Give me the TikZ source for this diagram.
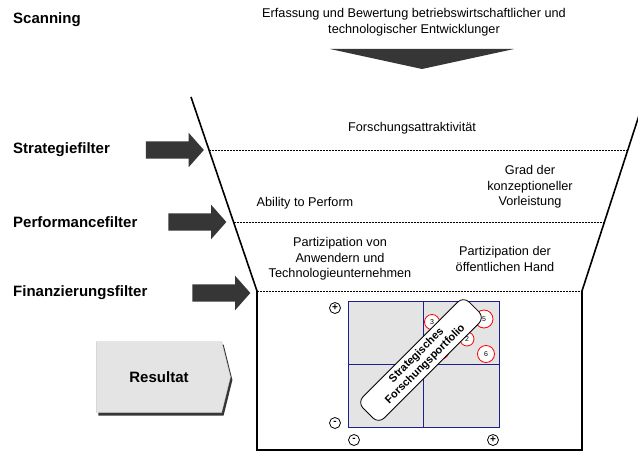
\documentclass[tikz,border=0pt]{standalone}
\usepackage{fontspec}
\setmainfont{Liberation Sans}
\usetikzlibrary{shapes.arrows,shapes.symbols,shadows,calc}
\definecolor{arrowgray}{RGB}{54,54,54}
\definecolor{gridblue}{RGB}{30,30,140}
\definecolor{boxgray}{RGB}{228,228,228}
\tikzset{
	filter label/.style={font=\fontsize{15}{18}\selectfont\bfseries,anchor=west,inner sep=0},
	filter arrow/.style={single arrow,fill=arrowgray,inner xsep=0,inner ysep=8.5pt,minimum height=58,
		minimum width=34,single arrow head extend=8.5,single arrow tip angle=97},
	funnel text/.style={font=\fontsize{12.7}{15.5}\selectfont,align=center,inner sep=0},
	dashline/.style={dash pattern=on 2pt off 1pt,line width=0.8pt},
	sign node/.style={circle,draw,line width=0.8pt,inner sep=0,minimum size=11,font=\fontsize{10}{10}\selectfont\bfseries},
	pos node/.style={circle,draw=red,fill=white,line width=0.8pt,inner sep=0,font=\fontsize{7}{8}\selectfont}
}

\begin{document}
\begin{tikzpicture}[x=1pt,y=-1pt]
	\path[use as bounding box,clip] (0,0) rectangle (638,452);
	% scanning
	\node[filter label] (scan) at (13,20) {Scanning};
	\node[funnel text] (scantext) at (414,22) {Erfassung und Bewertung betriebswirtschaftlicher und\\technologischer Entwicklunger};
	\fill[arrowgray] (330,49) -- (514,49) -- (422,69) -- cycle;
	% funnel
	\coordinate (tl) at (191,97);
	\coordinate (bl) at (257,291);
	\coordinate (tr) at (645,97);
	\coordinate (br) at (582,291);
	\draw[line width=1.6pt] (tl) -- (bl) -- (257,450) -- (582,450) -- (br) -- (tr);
	\draw[dashline] ($(tl)!0.273!(bl)$) -- ($(tr)!0.273!(br)$);
	\draw[dashline] ($(tl)!0.644!(bl)$) -- ($(tr)!0.644!(br)$);
	\draw[dashline] (bl) -- (br);
	% filters
	\node[filter label] (strat) at (13,150) {Strategiefilter};
	\node[filter label] (perf) at (13,222) {Performancefilter};
	\node[filter label] (fin) at (13,293) {Finanzierungsfilter};
	\node[filter arrow] (stratarrow) at (171,150) {};
	\node[filter arrow] (perfarrow) at (193.5,222) {};
	\node[filter arrow] (finarrow) at (217.5,293) {};
	% criteria
	\node[funnel text] (attr) at (412,128) {Forschungsattraktivität};
	\node[funnel text] (ability) at (305,203) {Ability to Perform};
	\node[funnel text] (grad) at (530,187) {Grad der\\konzeptioneller\\Vorleistung};
	\node[funnel text] (partanw) at (340,259) {Partizipation von\\Anwendern und\\Technologieunternehmen};
	\node[funnel text] (partoeff) at (505,259) {Partizipation der\\öffentlichen Hand};
	% portfolio
	\node[draw=gridblue,fill=boxgray,inner sep=0,minimum width=151,minimum height=126] (portfolio) at (423.5,364) {};
	\draw[gridblue] (portfolio.north) -- (portfolio.south);
	\draw[gridblue] (portfolio.west) -- (portfolio.east);
	\node[sign node] (yplus) at (335,308) {+};
	\node[sign node] (yminus) at (335,423) {-};
	\node[sign node] (xminus) at (354,440) {-};
	\node[sign node] (xplus) at (493,440) {+};
	\node[pos node,minimum size=16] (p4) at (441,351) {};
	\node[pos node,minimum size=15] (p3) at (432,322) {3};
	\node[pos node,minimum size=18] (p5) at (484,319) {5};
	\node[pos node,minimum size=14] (p2) at (467,339) {2};
	\node[pos node,minimum size=17] (p6) at (486,354) {6};
	\node[draw,fill=white,line width=0.8pt,rounded corners=8,rotate=45,minimum width=150,minimum height=30,
		inner sep=0,align=center,font=\fontsize{11}{12.5}\selectfont\bfseries] (band) at (421,360) {Strategisches\\Forschungsportfolio};
	% result
	\node[signal,signal to=east,signal pointer angle=152,fill=boxgray,draw=gray!40,
		drop shadow={shadow xshift=2pt,shadow yshift=-3pt,fill=arrowgray,opacity=1},
		minimum width=134,minimum height=71,inner sep=0,font=\fontsize{15}{18}\selectfont\bfseries] (result) at (159,377) {Resultat};
\end{tikzpicture}
\end{document}
